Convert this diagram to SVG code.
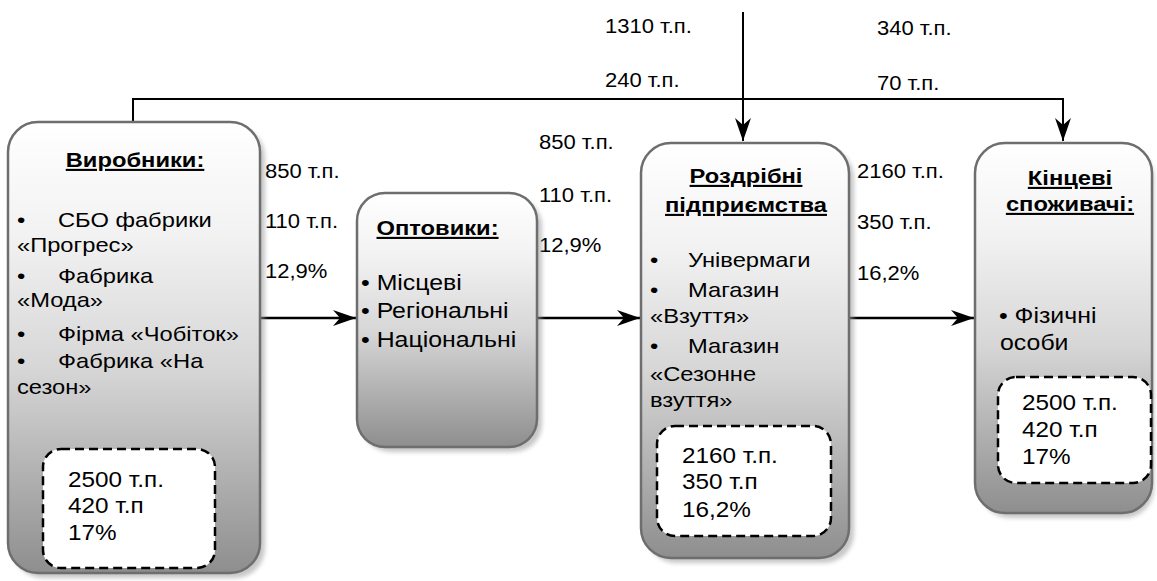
<svg xmlns="http://www.w3.org/2000/svg" width="1157" height="581" viewBox="0 0 1157 581">
<style>
text{font-family:"Liberation Sans",Arial,sans-serif;fill:#000}
.lbl{font-size:19.5px}
.it{font-size:21px}
.it2{font-size:22px}
.hd{font-size:21px;font-weight:bold;text-decoration:underline;text-anchor:middle}
.in{font-size:21.5px}
.box{fill:url(#gr);stroke:#6e6e6e;stroke-width:2.5}
.sh{fill:#9a9a9a;opacity:0.55;filter:url(#bl)}
.dash{fill:#fff;stroke:#000;stroke-width:2.5;stroke-dasharray:9 5}
.ln{fill:none;stroke:#000;stroke-width:2.5}
.ln2{fill:none;stroke:#000;stroke-width:2}
</style>
<defs>
<linearGradient id="gr" x1="0" y1="0" x2="0" y2="1">
<stop offset="0" stop-color="#ffffff"/>
<stop offset="0.25" stop-color="#f2f2f2"/>
<stop offset="0.55" stop-color="#d6d6d6"/>
<stop offset="1" stop-color="#8e8e8e"/>
</linearGradient>
<filter id="bl" x="-10%" y="-10%" width="120%" height="120%"><feGaussianBlur stdDeviation="2"/></filter>
<marker id="ar" markerUnits="userSpaceOnUse" markerWidth="30" markerHeight="20" viewBox="-24 -10 26 20" refX="0" refY="0" orient="auto">
<path d="M0,0 L-23,-8 L-16,0 L-23,8 Z" fill="#000"/>
</marker>
</defs>
<rect width="1157" height="581" fill="#fff"/>

<g id="connectors">
<path class="ln2" d="M743,12 V141" marker-end="url(#ar)"/>
<path class="ln2" d="M133,122 V99 H1063 V141" marker-end="url(#ar)"/>
<path class="ln" d="M260,318 H356" marker-end="url(#ar)"/>
<path class="ln" d="M537,318 H640" marker-end="url(#ar)"/>
<path class="ln" d="M843,318 H974" marker-end="url(#ar)"/>
</g>

<g id="labels" transform="scale(1.13 1)">
<text class="lbl" x="535.4" y="33">1310 т.п.</text>
<text class="lbl" x="535.4" y="87">240 т.п.</text>
<text class="lbl" x="776.1" y="35">340 т.п.</text>
<text class="lbl" x="776.1" y="90">70 т.п.</text>
<text class="lbl" x="234.5" y="178">850 т.п.</text>
<text class="lbl" x="234.5" y="228">110 т.п.</text>
<text class="lbl" x="234.5" y="278">12,9%</text>
<text class="lbl" x="477" y="149">850 т.п.</text>
<text class="lbl" x="477" y="202">110 т.п.</text>
<text class="lbl" x="477" y="252">12,9%</text>
<text class="lbl" x="758.4" y="178">2160 т.п.</text>
<text class="lbl" x="758.4" y="229">350 т.п.</text>
<text class="lbl" x="758.4" y="280">16,2%</text>
</g>

<g id="node-vyrobnyky">
<rect class="sh" x="13" y="127" width="252" height="451" rx="30"/>
<rect class="box" x="8" y="122" width="252" height="451" rx="30"/>
<rect class="dash" x="43" y="449" width="172" height="119" rx="18"/>
<g transform="scale(1.13 1)">
<text class="hd" x="119.5" y="167">Виробники:</text>
<text class="it"><tspan x="15" y="227">•</tspan><tspan x="51.3" y="227">СБО фабрики</tspan><tspan x="15" y="252">«Прогрес»</tspan><tspan x="15" y="283">•</tspan><tspan x="51.3" y="283">Фабрика</tspan><tspan x="15" y="307">«Мода»</tspan><tspan x="15" y="341">•</tspan><tspan x="51.3" y="341">Фірма «Чобіток»</tspan><tspan x="15" y="368">•</tspan><tspan x="51.3" y="368">Фабрика «На</tspan><tspan x="15" y="394">сезон»</tspan></text>
<text class="in"><tspan x="60.2" y="487">2500 т.п.</tspan><tspan x="60.2" y="513">420 т.п</tspan><tspan x="60.2" y="540">17%</tspan></text>
</g>
</g>

<g id="node-optovyky">
<rect class="sh" x="362" y="198" width="180" height="254" rx="28"/>
<rect class="box" x="357" y="193" width="180" height="254" rx="28"/>
<g transform="scale(1.13 1)">
<text class="hd" x="387.2" y="235">Оптовики:</text>
<text class="it2"><tspan x="319.5" y="290">• Місцеві</tspan><tspan x="319.5" y="318">• Регіональні</tspan><tspan x="319.5" y="347">• Національні</tspan></text>
</g>
</g>

<g id="node-rozdribni">
<rect class="sh" x="646" y="148" width="208" height="415" rx="30"/>
<rect class="box" x="641" y="143" width="208" height="415" rx="30"/>
<rect class="dash" x="657" y="426" width="174" height="110" rx="18"/>
<g transform="scale(1.13 1)">
<text class="hd"><tspan x="660.2" y="183">Роздрібні</tspan><tspan x="660.2" y="212">підприємства</tspan></text>
<text class="it"><tspan x="575.2" y="267">•</tspan><tspan x="608.8" y="267">Універмаги</tspan><tspan x="575.2" y="297">•</tspan><tspan x="608.8" y="297">Магазин</tspan><tspan x="575.2" y="323">«Взуття»</tspan><tspan x="575.2" y="353">•</tspan><tspan x="608.8" y="353">Магазин</tspan><tspan x="575.2" y="381">«Сезонне</tspan><tspan x="575.2" y="407">взуття»</tspan></text>
<text class="in"><tspan x="603.5" y="463">2160 т.п.</tspan><tspan x="603.5" y="489">350 т.п</tspan><tspan x="603.5" y="517">16,2%</tspan></text>
</g>
</g>

<g id="node-kintsevi">
<rect class="sh" x="980" y="148" width="174" height="370" rx="30"/>
<rect class="box" x="975" y="143" width="177" height="370" rx="30"/>
<rect class="dash" x="998" y="377" width="153" height="106" rx="18"/>
<g transform="scale(1.13 1)">
<text class="hd"><tspan x="946.9" y="185">Кінцеві</tspan><tspan x="946.9" y="211">споживачі:</tspan></text>
<text class="it2"><tspan x="884" y="323">• Фізичні</tspan><tspan x="885" y="350">особи</tspan></text>
<text class="in"><tspan x="904.4" y="410">2500 т.п.</tspan><tspan x="904.4" y="437">420 т.п</tspan><tspan x="904.4" y="464">17%</tspan></text>
</g>
</g>
</svg>
